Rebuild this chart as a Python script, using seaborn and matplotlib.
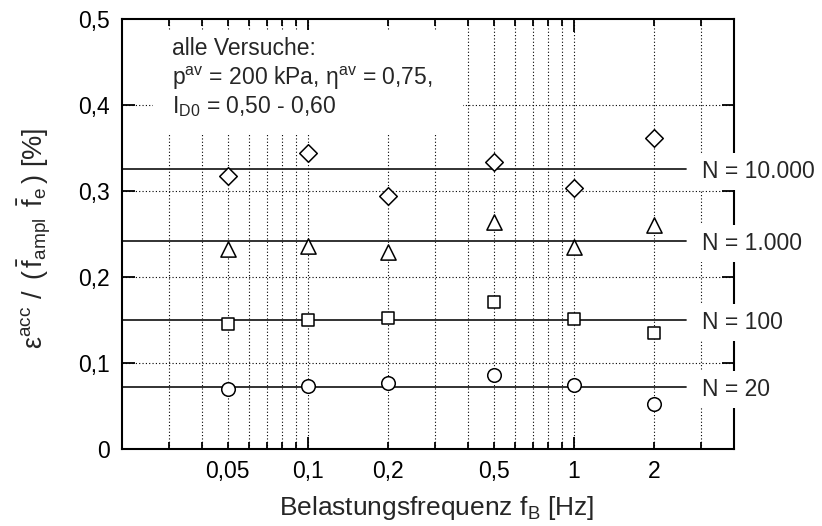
import numpy as np
import pandas as pd
import matplotlib
matplotlib.use("Agg")
import matplotlib.pyplot as plt
from matplotlib.patches import Rectangle
from matplotlib.ticker import FixedLocator, FixedFormatter
import seaborn as sns

# Loading frequency [Hz]
freqs = [0.05, 0.1, 0.2, 0.5, 1, 2]

# Normalised accumulated strain [%] after N cycles
eps_n20 = [0.070, 0.073, 0.077, 0.086, 0.074, 0.052]
eps_n100 = [0.145, 0.150, 0.152, 0.171, 0.151, 0.135]
eps_n1000 = [0.233, 0.236, 0.229, 0.264, 0.235, 0.260]
eps_n10000 = [0.318, 0.344, 0.294, 0.334, 0.304, 0.362]

# Mean value over all tests for each cycle count
cycle_labels = ["N = 20", "N = 100", "N = 1.000", "N = 10.000"]
cycle_means = [0.072, 0.150, 0.242, 0.326]
cycle_markers = ["o", "s", "^", "D"]
marker_sizes = [95, 70, 120, 80]

x_major = [0.1, 1]
x_minor = [0.03, 0.04, 0.05, 0.06, 0.07, 0.08, 0.09,
           0.2, 0.3, 0.4, 0.5, 0.6, 0.7, 0.8, 0.9, 2, 3]
x_minor_labels = {0.05: "0,05", 0.2: "0,2", 0.5: "0,5", 2: "2"}
x_major_labels = ["0,1", "1"]
y_ticks = [0, 0.1, 0.2, 0.3, 0.4, 0.5]
y_tick_labels = ["0", "0,1", "0,2", "0,3", "0,4", "0,5"]

sns.set_theme(style="ticks")
plt.rcParams["font.family"] = ["Liberation Sans", "DejaVu Sans"]
plt.rcParams["mathtext.fontset"] = "custom"
plt.rcParams["mathtext.rm"] = "Liberation Sans"
plt.rcParams["mathtext.it"] = "Liberation Sans:italic"
plt.rcParams["mathtext.bf"] = "Liberation Sans:bold"

FS = 16.5

series = [eps_n20, eps_n100, eps_n1000, eps_n10000]
df = pd.DataFrame({
    "f": np.tile(freqs, len(series)),
    "eps": np.concatenate(series),
    "N": np.repeat(cycle_labels, len(freqs)),
})

fig = plt.figure(figsize=(8.22, 5.26), dpi=100)
ax = fig.add_axes([0.1484, 0.1464, 0.7445, 0.8175])
ax.set_xscale("log")
ax.set_xlim(0.02, 4)
ax.set_ylim(0, 0.5)

# dotted grid
dot = dict(color="black", lw=0.8, linestyle=(0, (1, 2)), zorder=0.5)
for xv in x_major + x_minor:
    ax.axvline(xv, **dot)
for yv in y_ticks[1:-1]:
    ax.axhline(yv, **dot)

# white panel behind the test conditions
ax.add_patch(Rectangle((0.0507, 0.730), 0.507, 0.245, transform=ax.transAxes,
                       facecolor="white", edgecolor="none", zorder=0.8))

# mean lines
for lab, m in zip(cycle_labels, cycle_means):
    ax.axhline(m, xmin=0, xmax=0.9216, color="#222222", lw=1.3, zorder=1)
    ax.text(0.948, m, lab, transform=ax.get_yaxis_transform(), ha="left",
            va="center_baseline", fontsize=FS, zorder=4, clip_on=False,
            bbox=dict(boxstyle="square,pad=0.3", fc="white", ec="none"))

for lab, mk, sz in zip(cycle_labels, cycle_markers, marker_sizes):
    sub = df[df["N"] == lab]
    sns.scatterplot(data=sub, x="f", y="eps", marker=mk, s=sz, color="white",
                    edgecolor="black", linewidth=1.1, ax=ax, zorder=3, legend=False)

ax.xaxis.set_major_locator(FixedLocator(x_major))
ax.xaxis.set_major_formatter(FixedFormatter(x_major_labels))
ax.xaxis.set_minor_locator(FixedLocator(x_minor))
ax.xaxis.set_minor_formatter(FixedFormatter([x_minor_labels.get(v, "") for v in x_minor]))
ax.set_yticks(y_ticks)
ax.set_yticklabels(y_tick_labels)

ax.tick_params(axis="both", which="both", direction="in", top=True, right=True,
               color="black", width=1.3, labelsize=FS, labelcolor="black")
ax.tick_params(axis="x", which="major", length=9, pad=8)
ax.tick_params(axis="x", which="minor", length=5, pad=8)
ax.tick_params(axis="y", which="major", length=9, pad=9)

for sp in ax.spines.values():
    sp.set_linewidth(1.5)
    sp.set_color("black")
    sp.set_zorder(2.5)

ax.set_xlabel("Belastungsfrequenz f$_{\\mathrm{B}}$ [Hz]", fontsize=19)
ax.xaxis.set_label_coords(0.515, -0.105)
ax.set_ylabel("ε$^{\\mathrm{acc}}$ / $\\,$($\\,\\bar{\\mathrm{f}}_{\\mathrm{ampl}}\\,$ "
              "$\\bar{\\mathrm{f}}_{\\mathrm{e}}\\,$) [%]", fontsize=19.5)
ax.yaxis.set_label_coords(-0.113, 0.49)

ax.text(0.0817, 0.916, "alle Versuche:", transform=ax.transAxes,
        fontsize=FS, va="baseline", zorder=4)
ax.text(0.0817, 0.8465, "p$^{\\mathrm{av}}$ = 200 kPa, η$^{\\mathrm{av}}$ = 0,75,",
        transform=ax.transAxes, fontsize=FS, va="baseline", zorder=4)
ax.text(0.0817, 0.781, "I$_{\\mathrm{D0}}$ = 0,50 - 0,60", transform=ax.transAxes,
        fontsize=FS, va="baseline", zorder=4)

fig.savefig("out.png", dpi=100, facecolor="white")
